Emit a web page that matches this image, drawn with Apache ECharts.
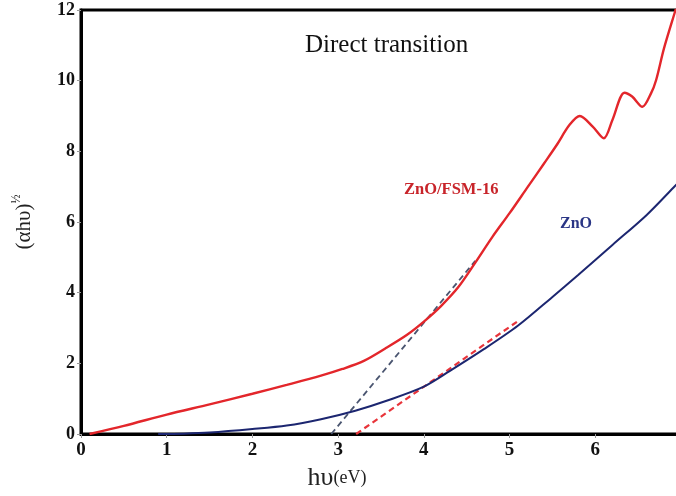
<!DOCTYPE html>
<html>
<head>
<meta charset="utf-8">
<script src="https://cdn.jsdelivr.net/npm/echarts@6/dist/echarts.min.js"></script>
<style>html,body{margin:0;padding:0;background:#fff}#c{width:676px;height:496px}</style>
</head>
<body>
<div id="c"></div>
<script>
// ZnO/FSM-16 curve
const redX = [0.1,0.5,1.0,1.5,2.0,2.4,2.8,3.05,3.3,3.55,3.8,4.0,4.2,4.4,4.6,4.8,5.0,5.2,5.4,5.55,5.7,5.82,5.97,6.1,6.2,6.34,6.43,6.55,6.65,6.71,6.8,6.93,7.0];
const redY = [0,0.23,0.55,0.84,1.14,1.39,1.65,1.84,2.07,2.42,2.8,3.18,3.62,4.15,4.85,5.58,6.25,6.95,7.65,8.18,8.75,9.0,8.7,8.37,8.89,9.66,9.55,9.26,9.64,10.02,10.9,11.95,12.5];
// ZnO curve
const blueX = [0.9,1.2,1.5,2.0,2.4,2.8,3.2,3.6,4.0,4.3,4.7,5.1,5.5,5.8,6.2,6.6,6.93,7.0];
const blueY = [0,0.01,0.04,0.14,0.24,0.42,0.66,0.97,1.34,1.78,2.4,3.07,3.88,4.5,5.35,6.2,7.02,7.2];
// tangent (extrapolation) lines
const tanRedX = [2.92,4.6];
const tanRedY = [0,4.9];
const tanBlueX = [3.21,5.1];
const tanBlueY = [0,3.2];
const xTicks = [0,1,2,3,4,5,6,7];
const yTicks = [0,2,4,6,8,10,12];

const zip = (a,b) => a.map((v,i)=>[v,b[i]]);
const serif = '"Liberation Serif","Times New Roman",serif';
const chart = echarts.init(document.getElementById('c'));
chart.setOption({
  animation:false,
  backgroundColor:'#fff',
  grid:{left:81,top:10,width:600,height:424,outerBoundsMode:'none',containLabel:false,show:true,borderColor:'#000',borderWidth:3,backgroundColor:'transparent'},
  xAxis:{type:'value',min:xTicks[0],max:xTicks[xTicks.length-1],interval:1,
    axisLine:{show:true,lineStyle:{color:'#000',width:3}},
    axisTick:{show:true,length:4,lineStyle:{color:'#999',width:1}},
    splitLine:{show:false},
    axisLabel:{margin:7,fontFamily:serif,fontWeight:'bold',fontSize:19,color:'#111',showMaxLabel:true,hideOverlap:false,
      formatter:v=>xTicks.includes(v)?String(v):''}},
  yAxis:{type:'value',min:yTicks[0],max:yTicks[yTicks.length-1],interval:2,
    axisLine:{show:true,lineStyle:{color:'#000',width:3}},
    axisTick:{show:true,length:4,lineStyle:{color:'#999',width:1}},
    splitLine:{show:false},
    axisLabel:{margin:6,fontFamily:serif,fontWeight:'bold',fontSize:18,color:'#111',
      formatter:v=>yTicks.includes(v)?String(v):''}},
  series:[
    {type:'line',data:zip(tanRedX,tanRedY),symbol:'none',lineStyle:{color:'#4a5570',width:1.8,type:[6,4]},z:1},
    {type:'line',data:zip(tanBlueX,tanBlueY),symbol:'none',lineStyle:{color:'#e8343a',width:2.2,type:[6,4]},z:1},
    {type:'line',data:zip(redX,redY),smooth:0.3,symbol:'none',lineStyle:{color:'#e3262b',width:2.4},z:3},
    {type:'line',data:zip(blueX,blueY),smooth:0.3,symbol:'none',lineStyle:{color:'#1c2670',width:2},z:2}
  ],
  graphic:[
    {type:'text',left:305,top:33,style:{text:'Direct transition',font:'25px '+serif,fill:'#111'}},
    {type:'text',left:404,top:181,style:{text:'ZnO/FSM-16',font:'bold 16.5px '+serif,fill:'#c8242a'}},
    {type:'text',left:560,top:216,style:{text:'ZnO',font:'bold 16px '+serif,fill:'#2a3585'}},
    {type:'text',x:24,y:222,rotation:Math.PI/2,
      style:{text:'{a|(αhυ)}{s|½}',align:'center',verticalAlign:'middle',
        rich:{a:{fontFamily:serif,fontSize:21,fill:'#222'},s:{fontFamily:serif,fontSize:12,fill:'#222',verticalAlign:'top',padding:[0,0,14,0]}}}},
    {type:'text',x:337,y:478,
      style:{text:'{a|hυ}{b|(eV)}',align:'center',verticalAlign:'middle',
        rich:{a:{fontFamily:serif,fontSize:26,fill:'#222'},b:{fontFamily:serif,fontSize:18,fill:'#222'}}}}
  ]
});
</script>
</body>
</html>
